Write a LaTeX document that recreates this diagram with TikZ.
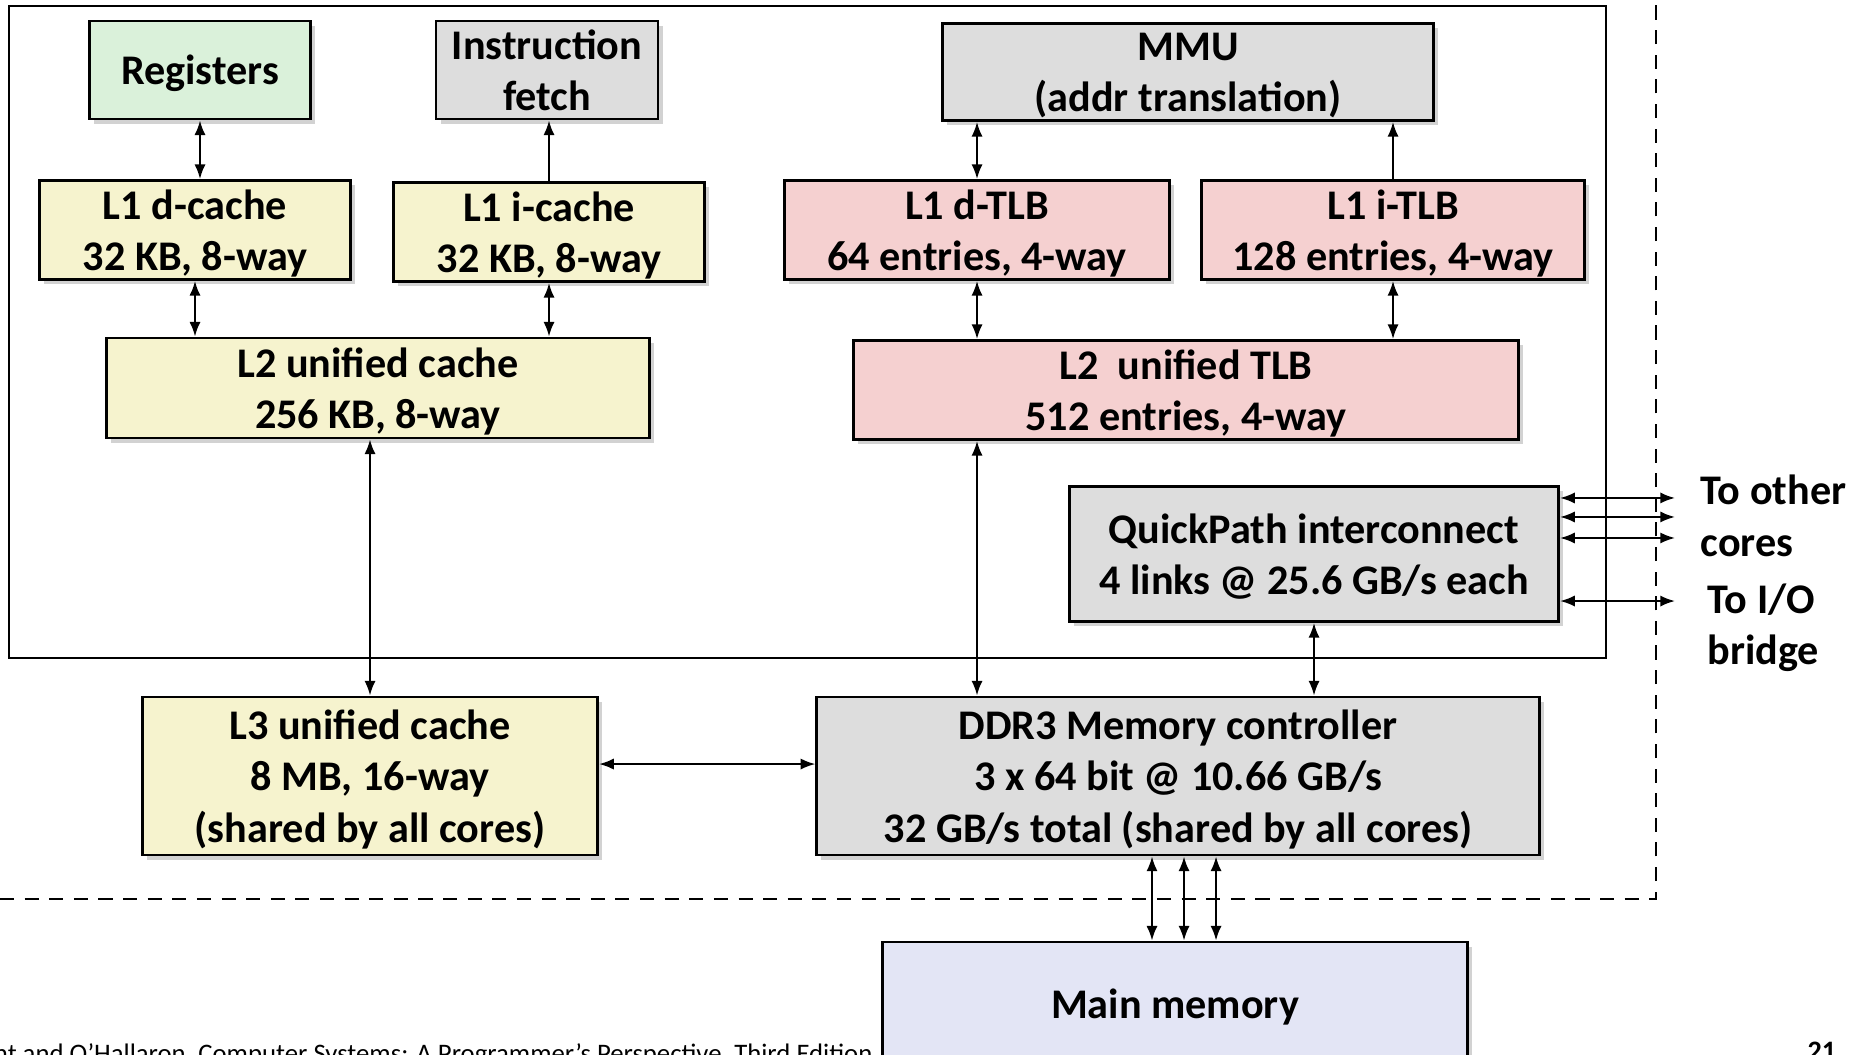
\documentclass[tikz,border=0pt]{standalone}
\usepackage{fontspec}
\setmainfont{Carlito}
\usepackage{tikz}
\usetikzlibrary{arrows.meta}
\usetikzlibrary{shadows}

\definecolor{regfill}{HTML}{DAF1DA}
\definecolor{cachefill}{HTML}{F6F3CE}
\definecolor{tlbfill}{HTML}{F5D0D0}
\definecolor{unitfill}{HTML}{DDDDDD}
\definecolor{memfill}{HTML}{E3E5F5}

\begin{document}
\begin{tikzpicture}[x=0.01cm,y=-0.01cm,>/.tip={Latex[length=4.2pt,width=3.2pt]},
	box/.style={draw,line width=0.8pt,inner sep=0pt,align=center,text depth=0pt,
		font=\bfseries\fontsize{12}{14.6}\selectfont,
		drop shadow={shadow xshift=1.3pt,shadow yshift=-1.3pt,fill=black!35}},
	link/.style={line width=0.6pt},
	lbl/.style={inner sep=0pt,align=left,font=\bfseries\fontsize{12}{14.6}\selectfont}]
	\useasboundingbox (0,0) rectangle (1849,1055);

	% core boundary and chip boundary
	\draw[line width=0.6pt] (9,6) rectangle (1606,658);
	\draw[line width=0.6pt,dash pattern=on 4pt off 3pt] (0,899) -- (1656,899) -- (1656,0);

	\draw (200,70) node(reg) [box,fill=regfill,minimum width=2.21cm,minimum height=0.98cm] {Registers};
	\draw (547,70) node(fetch) [box,fill=unitfill,minimum width=2.22cm,minimum height=0.98cm] {Instruction\\fetch};
	\draw (1188,72) node(mmu) [box,fill=unitfill,minimum width=4.91cm,minimum height=0.97cm] {MMU\\(addr translation)};

	\draw (195,230) node(l1d) [box,fill=cachefill,minimum width=3.11cm,minimum height=0.99cm] {L1 d-cache\\32 KB, 8-way};
	\draw (549,232) node(l1i) [box,fill=cachefill,minimum width=3.11cm,minimum height=0.99cm] {L1 i-cache\\32 KB, 8-way};
	\draw (977,230) node(dtlb) [box,fill=tlbfill,minimum width=3.84cm,minimum height=0.99cm] {L1 d-TLB\\64 entries, 4-way};
	\draw (1393,230) node(itlb) [box,fill=tlbfill,minimum width=3.83cm,minimum height=0.99cm] {L1 i-TLB\\128 entries, 4-way};

	\draw (378,388) node(l2c) [box,fill=cachefill,minimum width=5.42cm,minimum height=1.0cm] {L2 unified cache\\256 KB, 8-way};
	\draw (1186,390) node(l2t) [box,fill=tlbfill,minimum width=6.64cm,minimum height=0.99cm] {L2\ \ unified TLB\\512 entries, 4-way};

	\draw (1314,554) node(qp) [box,fill=unitfill,minimum width=4.89cm,minimum height=1.35cm] {QuickPath interconnect\\4 links @ 25.6 GB/s each};

	\draw (370,776) node(l3) [box,fill=cachefill,minimum width=4.55cm,minimum height=1.58cm] {L3 unified cache\\8 MB, 16-way\\(shared by all cores)};
	\draw (1178,776) node(ddr) [box,fill=unitfill,minimum width=7.22cm,minimum height=1.58cm] {DDR3 Memory controller\\3 x 64 bit @ 10.66 GB/s\\32 GB/s total (shared by all cores)};

	\draw (1175,1004) node(mem) [box,fill=memfill,minimum width=5.85cm,minimum height=1.24cm] {Main memory};

	% inside the core
	\draw[<->,link] (reg.south) -- (reg.south |- l1d.north);
	\draw[->,link] (l1i.north) -- (l1i.north |- fetch.south);
	\draw[<->,link] (l1d.south) -- (l1d.south |- l2c.north);
	\draw[<->,link] (l1i.south) -- (l1i.south |- l2c.north);
	\draw[<->,link] (dtlb.north) -- (dtlb.north |- mmu.south);
	\draw[->,link] (itlb.north) -- (itlb.north |- mmu.south);
	\draw[<->,link] (dtlb.south) -- (dtlb.south |- l2t.north);
	\draw[<->,link] (itlb.south) -- (itlb.south |- l2t.north);

	% out of the core
	\draw[<->,link] (l3.north) -- (l3.north |- l2c.south);
	\draw[<->,link] (dtlb.south |- l2t.south) -- (dtlb.south |- ddr.north);
	\draw[<->,link] (qp.south) -- (qp.south |- ddr.north);
	\draw[<->,link] ([yshift=3.4pt]l3.east) -- ([yshift=3.4pt]l3.east -| ddr.west);
	\foreach \dx in {-2.6,0.6,3.8}
		\draw[<->,link] ([xshift=\dx mm]ddr.south) -- ([xshift=\dx mm]ddr.south |- mem.north);

	\coordinate (ext) at (1675,554);
	\foreach \dy in {5.6,3.7,1.6,-4.7}
		\draw[<->,link] ([yshift=\dy mm]qp.east) -- ([yshift=\dy mm]qp.east -| ext);
	\node[lbl,anchor=west] (cores) at (1700,516) {To other\\cores};
	\node[lbl,anchor=west] (bridge) at (1707,628) {To I/O\\bridge};

	% footer
	\node[anchor=north east,inner sep=0pt,font=\fontsize{7.6}{9}\selectfont] (foot) at (873,1043) {Bryant and O’Hallaron, Computer Systems: A Programmer’s Perspective, Third Edition};
	\node[anchor=north west,inner sep=0pt,font=\bfseries\fontsize{8}{10}\selectfont] (page) at (1807,1041) {21};
\end{tikzpicture}
\end{document}
